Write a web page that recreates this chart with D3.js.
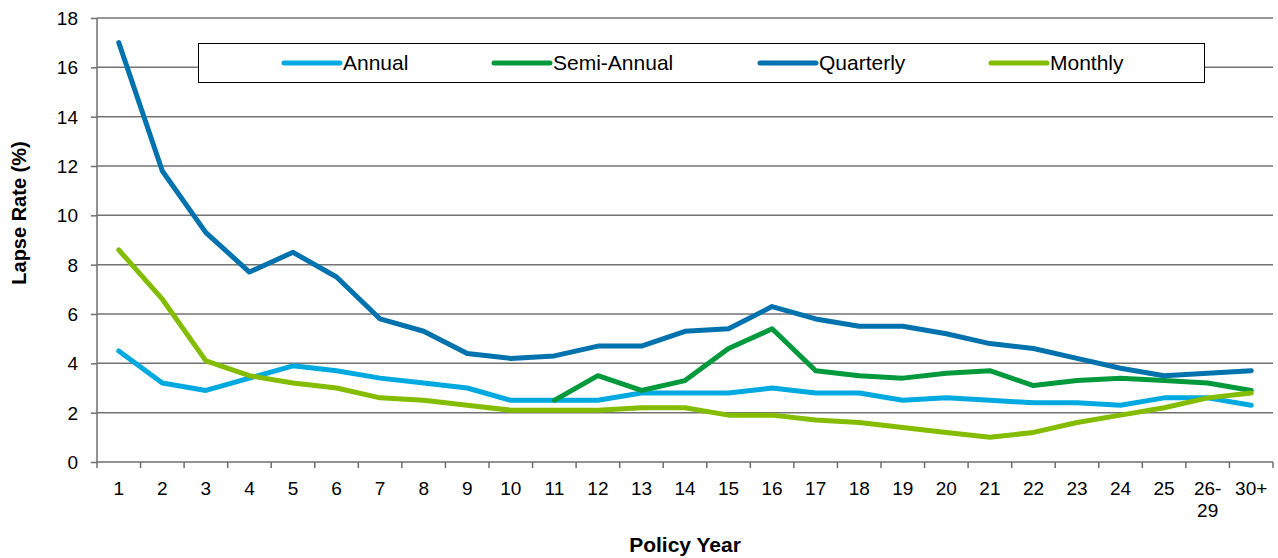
<!DOCTYPE html>
<meta charset="utf-8">
<head>
	<script src="https://cdn.jsdelivr.net/npm/d3@7"></script>
	<style>
		body { margin: 0; background: #fff; }
		text { font-family: "Liberation Sans", Arial, sans-serif; fill: #000; }
		.tick text { font-size: 19px; }
		.title { font-size: 20px; font-weight: bold; }
		.legend text { font-size: 21px; }
	</style>
</head>
<body>
	<svg id="svg"></svg>
</body>
<script>
	var years = ['1', '2', '3', '4', '5', '6', '7', '8', '9', '10', '11', '12', '13', '14',
		'15', '16', '17', '18', '19', '20', '21', '22', '23', '24', '25', '26-29', '30+'];

	var annual = [4.5, 3.2, 2.9, 3.4, 3.9, 3.7, 3.4, 3.2, 3.0, 2.5, 2.5, 2.5, 2.8, 2.8,
		2.8, 3.0, 2.8, 2.8, 2.5, 2.6, 2.5, 2.4, 2.4, 2.3, 2.6, 2.6, 2.3];
	var semiAnnual = [null, null, null, null, null, null, null, null, null, null, 2.5, 3.5, 2.9, 3.3,
		4.6, 5.4, 3.7, 3.5, 3.4, 3.6, 3.7, 3.1, 3.3, 3.4, 3.3, 3.2, 2.9];
	var quarterly = [17.0, 11.8, 9.3, 7.7, 8.5, 7.5, 5.8, 5.3, 4.4, 4.2, 4.3, 4.7, 4.7, 5.3,
		5.4, 6.3, 5.8, 5.5, 5.5, 5.2, 4.8, 4.6, 4.2, 3.8, 3.5, 3.6, 3.7];
	var monthly = [8.6, 6.6, 4.1, 3.5, 3.2, 3.0, 2.6, 2.5, 2.3, 2.1, 2.1, 2.1, 2.2, 2.2,
		1.9, 1.9, 1.7, 1.6, 1.4, 1.2, 1.0, 1.2, 1.6, 1.9, 2.2, 2.6, 2.8];

	var yTicks = [0, 2, 4, 6, 8, 10, 12, 14, 16, 18];

	var series = [
		{ name: 'Annual', values: annual, color: '#00a9e0' },
		{ name: 'Semi-Annual', values: semiAnnual, color: '#009a3d' },
		{ name: 'Quarterly', values: quarterly, color: '#0072ae' },
		{ name: 'Monthly', values: monthly, color: '#84bd00' }
	];

	var width = 1278, height = 558;
	var margin = { left: 97, right: 5, top: 18, bottom: 96 };

	var svg = d3.select('#svg')
		.attr('width', width)
		.attr('height', height);

	var x = d3.scaleBand().domain(years).range([margin.left, width - margin.right]);
	var y = d3.scaleLinear().domain([0, 18]).range([height - margin.bottom, margin.top]);

	var axisColor = '#6e6e6e';

	// gridlines
	svg.append('g')
		.selectAll('line')
		.data(yTicks.slice(1))
		.enter().append('line')
		.attr('x1', margin.left)
		.attr('x2', width - margin.right)
		.attr('y1', d => y(d))
		.attr('y2', d => y(d))
		.attr('stroke', '#737373')
		.attr('stroke-width', 1.5);

	// y axis
	var yAxis = svg.append('g')
		.attr('transform', 'translate(' + margin.left + ',0)')
		.call(d3.axisLeft(y).tickValues(yTicks).tickSize(6).tickPadding(13));
	yAxis.selectAll('line, path').attr('stroke', axisColor).attr('stroke-width', 1.5);
	yAxis.select('.domain').attr('d', 'M0,' + y(0) + 'V' + y(18));
	yAxis.selectAll('text').attr('dy', '0.35em');

	// x axis labels
	var xAxis = svg.append('g')
		.attr('transform', 'translate(0,' + y(0) + ')')
		.call(d3.axisBottom(x).tickSize(0).tickPadding(0));
	xAxis.select('.domain').attr('stroke', axisColor).attr('stroke-width', 1.5)
		.attr('d', 'M' + margin.left + ',0H' + (width - margin.right));
	xAxis.selectAll('.tick text').each(function (d) {
		var t = d3.select(this).text('').attr('y', 33).attr('dy', null);
		var parts = d === '26-29' ? ['26-', '29'] : [d];
		parts.forEach(function (p, i) {
			t.append('tspan').attr('x', 0).attr('dy', i ? 22 : 0).text(p);
		});
	});

	// x tick marks at category boundaries
	svg.append('g')
		.selectAll('line')
		.data(years.concat(['end']))
		.enter().append('line')
		.attr('x1', (d, i) => margin.left + i * x.bandwidth())
		.attr('x2', (d, i) => margin.left + i * x.bandwidth())
		.attr('y1', y(0))
		.attr('y2', y(0) + 6)
		.attr('stroke', axisColor)
		.attr('stroke-width', 1.5);

	// lines
	var line = d3.line()
		.defined(d => d.v != null)
		.x(d => x(d.k) + x.bandwidth() / 2)
		.y(d => y(d.v));

	svg.append('g')
		.selectAll('path')
		.data(series)
		.enter().append('path')
		.attr('fill', 'none')
		.attr('stroke', d => d.color)
		.attr('stroke-width', 5)
		.attr('stroke-linejoin', 'round')
		.attr('stroke-linecap', 'round')
		.attr('d', d => line(d.values.map((v, i) => ({ k: years[i], v: v }))));

	// legend
	var legend = svg.append('g').attr('class', 'legend');
	legend.append('rect')
		.attr('x', 198.5).attr('y', 43.5)
		.attr('width', 1006).attr('height', 39)
		.attr('fill', '#fff')
		.attr('stroke', '#000')
		.attr('stroke-width', 1);

	var legendX = [284, 494, 760, 991];
	var items = legend.selectAll('g.item')
		.data(series)
		.enter().append('g')
		.attr('class', 'item')
		.attr('transform', (d, i) => 'translate(' + legendX[i] + ',63)');
	items.append('line')
		.attr('x1', 0).attr('x2', 56)
		.attr('stroke', d => d.color)
		.attr('stroke-width', 5)
		.attr('stroke-linecap', 'round');
	items.append('text')
		.attr('x', 59)
		.attr('dy', '0.35em')
		.text(d => d.name);

	// axis titles
	svg.append('text')
		.attr('class', 'title')
		.attr('text-anchor', 'middle')
		.attr('transform', 'translate(26,213) rotate(-90)')
		.text('Lapse Rate (%)');

	svg.append('text')
		.attr('class', 'title')
		.attr('text-anchor', 'middle')
		.style('font-size', '21px')
		.attr('x', 685)
		.attr('y', 552)
		.text('Policy Year');
</script>
